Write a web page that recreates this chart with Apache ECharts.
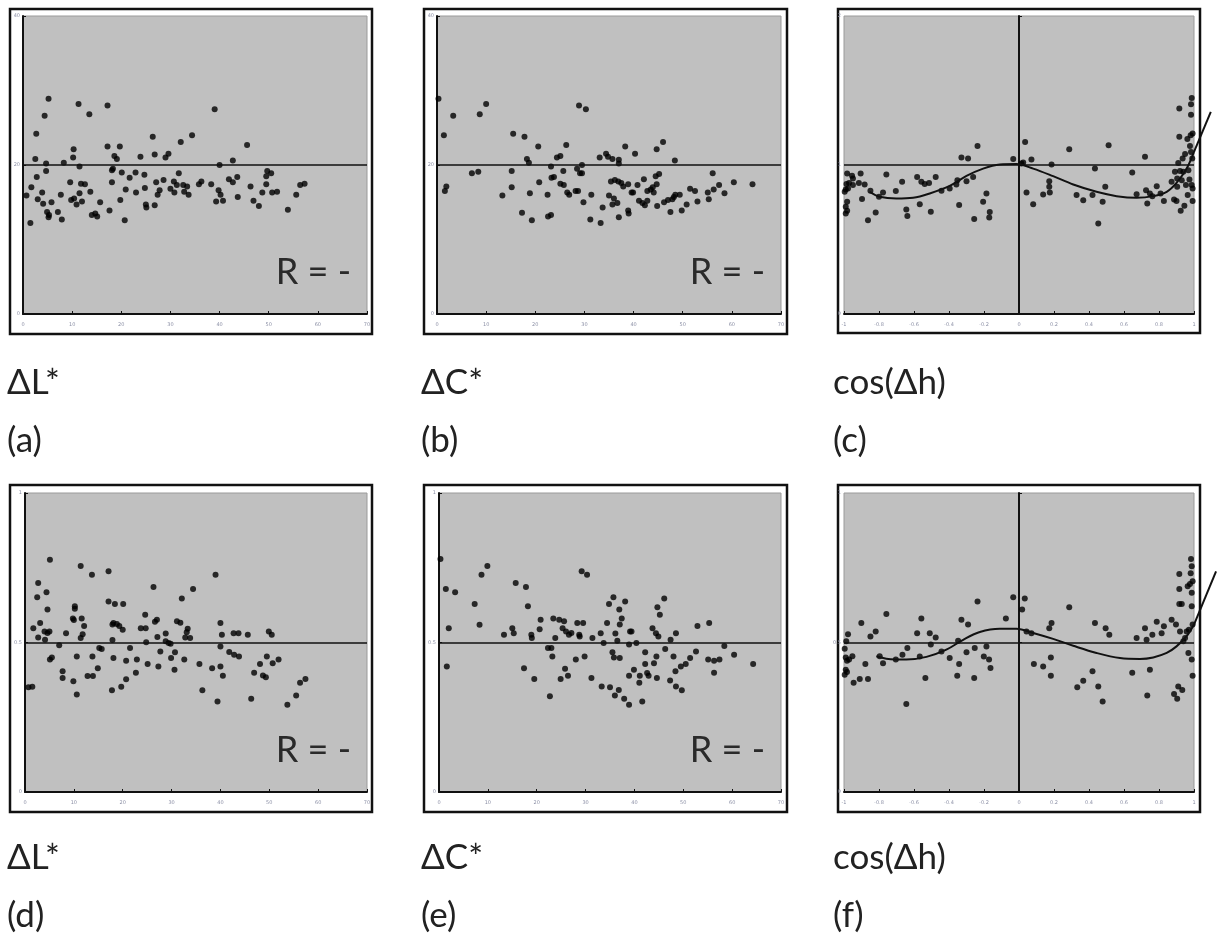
<!DOCTYPE html>
<html>
<head>
<meta charset="utf-8">
<script src="https://cdn.jsdelivr.net/npm/echarts@6/dist/echarts.min.js"></script>
<style>
  html, body { margin: 0; padding: 0; background: #fff; }
  #chart { width: 1218px; height: 940px; }
</style>
</head>
<body>
<div id="chart"></div>
<script>
// (a) ΔL* vs residual, top row
const panelA = [[0.7,15.9],[1.5,12.2],[1.7,17.0],[2.5,20.8],[2.7,24.2],[2.8,18.4],[3.0,15.4],[3.9,16.3],[4.1,14.8],[4.4,26.6],[4.7,20.2],[4.7,19.2],[4.9,13.7],[5.2,28.9],[5.2,13.0],[5.3,13.3],[5.8,15.0],[7.1,13.7],[7.7,16.0],[7.9,12.7],[8.3,20.3],[9.6,17.7],[9.8,15.3],[10.2,21.0],[10.3,22.1],[10.4,15.5],[10.9,14.7],[11.3,28.2],[11.5,19.8],[11.5,16.2],[11.8,17.5],[12.0,15.1],[12.6,17.4],[13.5,26.8],[13.7,16.4],[14.0,13.3],[14.7,13.5],[15.1,13.1],[15.7,15.0],[17.2,28.0],[17.2,22.5],[17.6,13.9],[18.1,19.3],[18.1,17.7],[18.3,19.5],[18.6,21.2],[19.1,20.8],[19.7,22.5],[19.8,15.3],[20.1,19.0],[20.7,12.6],[20.9,16.7],[21.7,18.3],[22.9,19.0],[23.0,16.3],[23.9,21.1],[24.7,18.7],[24.8,16.9],[25.0,14.7],[25.1,14.3],[26.4,23.8],[26.8,21.4],[26.8,14.6],[27.1,17.7],[27.4,16.0],[27.8,16.6],[28.6,18.0],[29.0,21.0],[29.6,21.5],[30.0,16.8],[30.7,17.8],[30.8,16.3],[31.3,17.3],[31.7,18.9],[32.1,23.1],[32.6,17.3],[32.8,16.4],[33.4,17.1],[33.7,16.0],[34.4,24.0],[35.8,17.4],[36.3,17.8],[38.3,17.4],[39.0,27.5],[39.3,15.1],[39.8,16.6],[40.0,20.0],[40.2,16.0],[40.7,15.2],[41.9,18.1],[42.7,20.6],[42.7,17.7],[43.6,18.4],[43.7,15.7],[45.6,22.7],[46.3,17.1],[46.9,15.2],[48.0,14.5],[48.7,16.3],[49.5,17.4],[49.5,18.5],[49.7,19.2],[50.5,18.9],[50.7,16.3],[51.7,16.4],[53.9,14.0],[55.6,16.0],[56.4,17.3],[57.3,17.5]];

// (b) ΔC*
const panelB = [[0.3,28.9],[1.4,24.0],[1.6,16.5],[1.9,17.1],[3.3,26.6],[7.1,18.9],[8.4,19.1],[8.7,26.8],[10.0,28.2],[13.3,15.9],[15.2,19.2],[15.2,17.0],[15.5,24.2],[17.3,13.6],[17.8,23.8],[18.3,20.8],[18.7,20.3],[18.9,16.2],[19.3,12.6],[20.6,22.5],[20.8,17.7],[22.5,16.0],[22.6,13.1],[23.2,13.3],[23.2,19.8],[23.3,18.3],[23.8,18.4],[24.4,21.0],[25.1,21.2],[25.1,17.5],[25.7,19.2],[25.8,17.3],[26.3,22.7],[26.5,16.3],[26.9,16.0],[28.2,16.5],[28.5,19.5],[28.7,16.5],[28.9,28.0],[29.1,18.9],[29.5,20.0],[29.5,18.9],[29.8,15.0],[30.3,27.5],[31.2,12.7],[31.4,16.0],[33.1,21.0],[33.3,12.2],[33.7,14.3],[34.4,21.5],[34.8,21.1],[35.0,15.9],[35.4,17.8],[35.7,20.8],[35.7,14.7],[36.0,15.5],[36.2,18.0],[36.7,14.9],[36.9,17.8],[37.0,13.0],[37.0,20.7],[37.0,20.2],[37.5,17.6],[37.9,17.1],[38.3,22.5],[38.9,17.4],[38.9,13.9],[39.0,13.5],[39.6,16.3],[39.9,16.3],[40.3,21.5],[40.8,17.3],[41.1,15.2],[41.8,14.9],[42.1,18.1],[42.3,14.6],[42.8,15.2],[42.8,16.5],[43.5,16.7],[43.9,17.0],[44.1,16.3],[44.5,18.5],[44.7,17.4],[44.7,22.1],[44.8,14.5],[45.2,18.8],[46.0,23.1],[46.2,15.0],[47.0,15.3],[47.5,13.7],[47.9,15.4],[48.2,15.7],[48.4,20.6],[48.5,16.0],[49.4,16.0],[49.8,13.9],[50.8,14.7],[51.5,16.8],[52.5,16.5],[53.0,15.1],[55.1,16.3],[55.3,15.4],[56.1,18.9],[56.3,16.7],[57.4,17.3],[58.5,16.2],[60.4,17.7],[64.2,17.4]];

// (c) cos(Δh)
const panelC = [[-0.996,0.82],[-0.99,0.836],[-0.986,0.872],[-0.982,0.943],[-0.982,0.753],[-0.99,0.72],[-0.99,0.675],[-0.982,0.693],[-0.977,0.842],[-0.971,0.88],[-0.954,0.928],[-0.949,0.865],[-0.949,0.91],[-0.915,0.88],[-0.905,0.943],[-0.897,0.771],[-0.882,0.869],[-0.863,0.63],[-0.849,0.827],[-0.819,0.682],[-0.8,0.787],[-0.777,0.816],[-0.758,0.936],[-0.704,0.825],[-0.668,0.887],[-0.644,0.702],[-0.638,0.657],[-0.582,0.92],[-0.567,0.737],[-0.558,0.887],[-0.539,0.872],[-0.514,0.88],[-0.504,0.686],[-0.476,0.92],[-0.443,0.827],[-0.396,0.842],[-0.358,0.869],[-0.352,0.898],[-0.342,0.731],[-0.329,1.05],[-0.3,0.891],[-0.291,1.043],[-0.262,0.92],[-0.256,0.637],[-0.237,1.128],[-0.205,0.753],[-0.186,0.809],[-0.17,0.648],[-0.167,0.684],[-0.033,1.041],[0.014,1.01],[0.024,1.017],[0.035,1.155],[0.043,0.816],[0.071,1.037],[0.081,0.737],[0.138,0.802],[0.173,0.891],[0.173,0.854],[0.176,0.816],[0.186,1.003],[0.287,1.106],[0.329,0.798],[0.367,0.764],[0.42,0.798],[0.434,0.976],[0.453,0.608],[0.478,0.753],[0.493,0.854],[0.512,1.133],[0.647,0.95],[0.672,0.804],[0.72,1.055],[0.726,0.831],[0.733,0.742],[0.748,0.809],[0.762,0.791],[0.787,0.858],[0.809,0.809],[0.828,0.758],[0.872,0.887],[0.886,0.769],[0.9,0.758],[0.891,0.954],[0.904,0.91],[0.904,0.854],[0.91,1.014],[0.916,1.19],[0.916,1.379],[0.92,0.96],[0.924,0.693],[0.93,0.898],[0.935,1.043],[0.939,0.954],[0.945,0.726],[0.949,1.073],[0.954,0.865],[0.962,1.175],[0.964,0.798],[0.968,0.965],[0.974,0.903],[0.977,1.128],[0.981,1.2],[0.983,1.338],[0.983,1.408],[0.987,1.45],[0.987,0.865],[0.99,1.043],[0.992,0.758],[0.992,1.211],[0.992,0.842],[0.983,1.088]];
const fitC = [[-0.853,0.82],[-0.796,0.787],[-0.701,0.775],[-0.605,0.78],[-0.51,0.809],[-0.396,0.86],[-0.3,0.927],[-0.205,0.976],[-0.11,1.003],[-0.014,1.006],[0.081,0.976],[0.195,0.925],[0.31,0.869],[0.443,0.82],[0.558,0.791],[0.672,0.78],[0.767,0.791],[0.844,0.82],[0.9,0.88],[0.958,0.976],[1.0,1.088]];
const tailC = [[1.0,1.088],[1.096,1.356]];

// (d) ΔL*, bottom row
const panelD = [[0.7,0.35],[1.5,0.352],[1.7,0.548],[2.5,0.651],[2.7,0.699],[2.7,0.517],[3.1,0.565],[4.0,0.537],[4.1,0.509],[4.4,0.668],[4.6,0.61],[4.6,0.532],[5.0,0.537],[5.1,0.777],[5.1,0.443],[5.5,0.45],[7.0,0.491],[7.7,0.404],[7.7,0.381],[8.4,0.531],[9.9,0.37],[9.8,0.58],[10.2,0.621],[10.0,0.575],[10.2,0.613],[10.6,0.326],[10.6,0.453],[11.4,0.756],[11.4,0.515],[11.6,0.58],[11.8,0.528],[12.1,0.555],[12.8,0.388],[13.7,0.727],[13.8,0.453],[13.9,0.388],[14.9,0.414],[15.2,0.482],[15.7,0.478],[17.1,0.738],[17.1,0.637],[17.8,0.34],[17.9,0.508],[17.9,0.56],[18.1,0.565],[18.1,0.448],[18.4,0.629],[18.8,0.562],[19.3,0.555],[19.7,0.352],[20.0,0.543],[20.1,0.629],[20.7,0.439],[20.7,0.377],[21.5,0.482],[22.7,0.399],[22.9,0.443],[23.7,0.548],[24.6,0.593],[24.7,0.548],[24.8,0.501],[25.1,0.428],[26.3,0.686],[26.6,0.569],[27.0,0.576],[27.1,0.518],[27.3,0.42],[27.7,0.47],[28.8,0.53],[28.8,0.504],[29.4,0.498],[29.8,0.496],[29.9,0.448],[30.6,0.409],[30.7,0.467],[31.1,0.571],[31.8,0.566],[32.1,0.647],[32.6,0.443],[32.8,0.517],[33.1,0.534],[33.3,0.546],[33.8,0.515],[34.4,0.679],[35.7,0.428],[36.3,0.34],[38.3,0.414],[39.0,0.727],[39.4,0.303],[40.0,0.565],[40.0,0.487],[40.0,0.42],[40.3,0.526],[40.5,0.389],[41.8,0.468],[42.7,0.531],[42.8,0.459],[43.7,0.531],[43.8,0.453],[45.6,0.526],[46.3,0.312],[46.9,0.399],[48.1,0.428],[48.7,0.39],[49.3,0.384],[49.5,0.453],[49.9,0.537],[50.5,0.526],[50.7,0.431],[51.9,0.443],[53.7,0.292],[55.5,0.323],[56.3,0.365],[57.4,0.378]];

// (e) ΔC*, bottom row
const panelE = [[0.3,0.779],[1.4,0.679],[1.6,0.42],[2.0,0.548],[3.3,0.668],[7.3,0.629],[8.3,0.559],[8.7,0.727],[9.9,0.756],[13.3,0.526],[15.0,0.548],[15.3,0.531],[15.7,0.699],[17.4,0.414],[17.8,0.686],[18.2,0.621],[18.9,0.526],[19.0,0.515],[19.5,0.378],[20.6,0.544],[20.8,0.576],[22.3,0.482],[22.7,0.32],[23.0,0.482],[23.2,0.453],[23.4,0.58],[23.8,0.515],[24.6,0.576],[24.9,0.378],[25.3,0.548],[25.6,0.571],[25.8,0.412],[26.0,0.537],[26.4,0.389],[26.6,0.526],[27.1,0.532],[28.0,0.443],[28.3,0.565],[28.7,0.526],[28.8,0.52],[29.2,0.738],[29.5,0.565],[29.8,0.453],[30.3,0.727],[31.2,0.381],[31.4,0.515],[33.1,0.531],[33.3,0.353],[33.7,0.498],[34.4,0.565],[34.8,0.629],[35.0,0.35],[35.5,0.467],[35.7,0.651],[35.8,0.45],[36.0,0.323],[36.1,0.53],[36.5,0.506],[36.8,0.341],[36.9,0.61],[37.0,0.56],[37.0,0.448],[37.4,0.58],[37.9,0.312],[38.1,0.637],[38.9,0.493],[38.9,0.389],[38.9,0.292],[39.1,0.537],[39.4,0.537],[39.9,0.409],[40.4,0.498],[41.0,0.365],[41.1,0.389],[41.6,0.303],[42.2,0.467],[42.2,0.428],[42.6,0.398],[42.9,0.389],[43.7,0.548],[44.0,0.431],[44.4,0.531],[44.5,0.453],[44.6,0.381],[44.7,0.618],[44.9,0.52],[45.2,0.593],[46.1,0.647],[46.3,0.478],[47.3,0.373],[47.4,0.509],[48.0,0.453],[48.4,0.404],[48.5,0.531],[48.5,0.353],[49.5,0.42],[49.7,0.34],[50.5,0.428],[51.4,0.448],[52.6,0.47],[52.9,0.555],[55.1,0.443],[55.3,0.565],[56.3,0.399],[56.3,0.439],[57.4,0.443],[58.4,0.488],[60.4,0.459],[64.3,0.428]];

// (f) cos(Δh), bottom row
const panelF = [[-0.996,0.392],[-0.996,0.479],[-0.99,0.45],[-0.99,0.409],[-0.987,0.504],[-0.983,0.439],[-0.983,0.401],[-0.977,0.528],[-0.971,0.443],[-0.952,0.454],[-0.945,0.365],[-0.91,0.378],[-0.901,0.565],[-0.878,0.428],[-0.863,0.378],[-0.849,0.52],[-0.819,0.537],[-0.796,0.454],[-0.777,0.431],[-0.758,0.595],[-0.704,0.443],[-0.666,0.459],[-0.644,0.294],[-0.638,0.482],[-0.582,0.531],[-0.567,0.453],[-0.558,0.58],[-0.535,0.381],[-0.51,0.531],[-0.504,0.493],[-0.476,0.517],[-0.443,0.47],[-0.396,0.448],[-0.353,0.389],[-0.348,0.506],[-0.342,0.428],[-0.329,0.576],[-0.3,0.467],[-0.291,0.56],[-0.256,0.381],[-0.253,0.482],[-0.237,0.637],[-0.201,0.453],[-0.186,0.487],[-0.171,0.443],[-0.163,0.415],[-0.075,0.58],[-0.033,0.651],[0.018,0.61],[0.033,0.647],[0.043,0.537],[0.071,0.531],[0.085,0.428],[0.138,0.42],[0.173,0.548],[0.182,0.45],[0.182,0.389],[0.186,0.565],[0.287,0.618],[0.333,0.35],[0.367,0.372],[0.42,0.404],[0.434,0.565],[0.453,0.353],[0.478,0.303],[0.495,0.548],[0.516,0.526],[0.647,0.399],[0.672,0.515],[0.72,0.548],[0.729,0.509],[0.733,0.323],[0.748,0.409],[0.762,0.526],[0.787,0.569],[0.815,0.531],[0.828,0.554],[0.872,0.576],[0.886,0.328],[0.897,0.56],[0.904,0.312],[0.91,0.353],[0.916,0.729],[0.916,0.679],[0.916,0.629],[0.92,0.537],[0.93,0.629],[0.933,0.341],[0.939,0.504],[0.949,0.515],[0.958,0.537],[0.964,0.688],[0.968,0.465],[0.971,0.543],[0.977,0.696],[0.981,0.732],[0.983,0.779],[0.987,0.755],[0.987,0.666],[0.987,0.621],[0.987,0.443],[0.992,0.389],[0.992,0.56],[0.992,0.705]];
const fitF = [[-0.815,0.454],[-0.758,0.446],[-0.644,0.443],[-0.529,0.452],[-0.415,0.476],[-0.319,0.509],[-0.224,0.535],[-0.11,0.546],[-0.014,0.546],[0.081,0.532],[0.195,0.512],[0.31,0.489],[0.443,0.465],[0.577,0.448],[0.691,0.445],[0.767,0.45],[0.844,0.465],[0.9,0.487],[0.958,0.521],[1.0,0.56]];
const tailF = [[1.0,0.56],[1.126,0.738]];

const varNames = ['ΔL*', 'ΔC*', 'cos(Δh)', 'ΔL*', 'ΔC*', 'cos(Δh)'];
const panelTags = ['(a)', '(b)', '(c)', '(d)', '(e)', '(f)'];
const rText = 'R = -';

const panels = [
  { grid: { left: 23, top: 16, width: 344, height: 298 }, frame: [10, 9, 362, 325], x: [0, 70, 10], y: [0, 40, 20], pts: panelA, r: true },
  { grid: { left: 437, top: 16, width: 344, height: 298 }, frame: [424, 9, 363, 325], x: [0, 70, 10], y: [0, 40, 20], pts: panelB, r: true },
  { grid: { left: 844, top: 16, width: 350, height: 298 }, frame: [838, 9, 362, 324], x: [-1, 1, 0.2], y: [0, 2, 1], pts: panelC, fit: fitC, tail: tailC },
  { grid: { left: 25, top: 493, width: 342, height: 299 }, frame: [10, 485, 362, 327], x: [0, 70, 10], y: [0, 1, 0.5], pts: panelD, r: true },
  { grid: { left: 439, top: 493, width: 342, height: 299 }, frame: [424, 485, 363, 327], x: [0, 70, 10], y: [0, 1, 0.5], pts: panelE, r: true },
  { grid: { left: 844, top: 493, width: 350, height: 299 }, frame: [838, 485, 362, 327], x: [-1, 1, 0.2], y: [0, 1, 0.5], pts: panelF, fit: fitF, tail: tailF }
];

const tickLabel = { fontSize: 5, color: '#8c90a6', fontFamily: 'DejaVu Sans' };
const grids = [], xAxes = [], yAxes = [], series = [], graphics = [];

panels.forEach((p, i) => {
  const centred = p.x[0] < 0;
  grids.push(Object.assign({ show: true, backgroundColor: '#c0c0c0', borderColor: '#9a9a9a', borderWidth: 1 }, p.grid));
  xAxes.push({
    gridIndex: i, type: 'value', min: p.x[0], max: p.x[1], interval: p.x[2],
    axisLine: { onZero: false, lineStyle: { color: '#111', width: 2 } },
    axisTick: { inside: true, length: 3, lineStyle: { color: '#111' } },
    axisLabel: Object.assign({ margin: 8 }, tickLabel),
    splitLine: { show: false }
  });
  yAxes.push({
    gridIndex: i, type: 'value', min: p.y[0], max: p.y[1], interval: p.y[2],
    axisLine: { onZero: centred, lineStyle: { color: '#111', width: 2 } },
    axisTick: { inside: true, length: 3, lineStyle: { color: '#111' } },
    axisLabel: Object.assign({ margin: 3 }, tickLabel),
    splitLine: { show: false }
  });
  series.push({
    type: 'scatter', xAxisIndex: i, yAxisIndex: i, data: p.pts,
    symbolSize: 6, itemStyle: { color: '#000' }, silent: true,
    markLine: {
      silent: true, symbol: ['none', 'none'], label: { show: false },
      lineStyle: { color: '#111', width: 1.5, type: 'solid' },
      data: [{ yAxis: (p.y[0] + p.y[1]) / 2 }]
    }
  });
  if (p.fit) {
    series.push({
      type: 'line', xAxisIndex: i, yAxisIndex: i, data: p.fit,
      smooth: 0.35, showSymbol: false, silent: true,
      lineStyle: { color: '#111', width: 2 }
    });
  }

  const f = p.frame;
  graphics.push({ type: 'rect', shape: { x: f[0], y: f[1], width: f[2], height: f[3] },
    style: { fill: 'none', stroke: '#111', lineWidth: 2.5 }, silent: true });

  const rowTop = i < 3 ? 0 : 475;
  const colX = [7, 421, 833][i % 3];
  graphics.push({ type: 'text', x: colX, y: 383 + rowTop,
    style: { text: varNames[i], font: '35px Lato', fill: '#222', verticalAlign: 'middle' } });
  graphics.push({ type: 'text', x: colX, y: 441 + rowTop,
    style: { text: panelTags[i], font: '35px Lato', fill: '#222', verticalAlign: 'middle' } });
  if (p.r) {
    graphics.push({ type: 'text', x: p.grid.left + p.grid.width - 16, y: p.grid.top + p.grid.height - 42,
      style: { text: rText, font: '36px Lato', fill: '#2a2a2a', align: 'right', verticalAlign: 'middle' } });
  }
});

const chart = echarts.init(document.getElementById('chart'));
chart.setOption({
  animation: false,
  backgroundColor: '#fff',
  grid: grids,
  xAxis: xAxes,
  yAxis: yAxes,
  series: series,
  graphic: graphics
});

// the fitted curve runs on past the right edge of the plot, so its last
// stretch is placed through the axis scales and drawn as a free polyline
panels.forEach((p, i) => {
  if (!p.tail) return;
  const pts = p.tail.map(d => chart.convertToPixel({ gridIndex: i }, d));
  graphics.push({ type: 'polyline', shape: { points: pts }, z: 100, silent: true,
    style: { fill: null, stroke: '#111', lineWidth: 2 } });
});
chart.setOption({ graphic: graphics });
</script>
</body>
</html>
